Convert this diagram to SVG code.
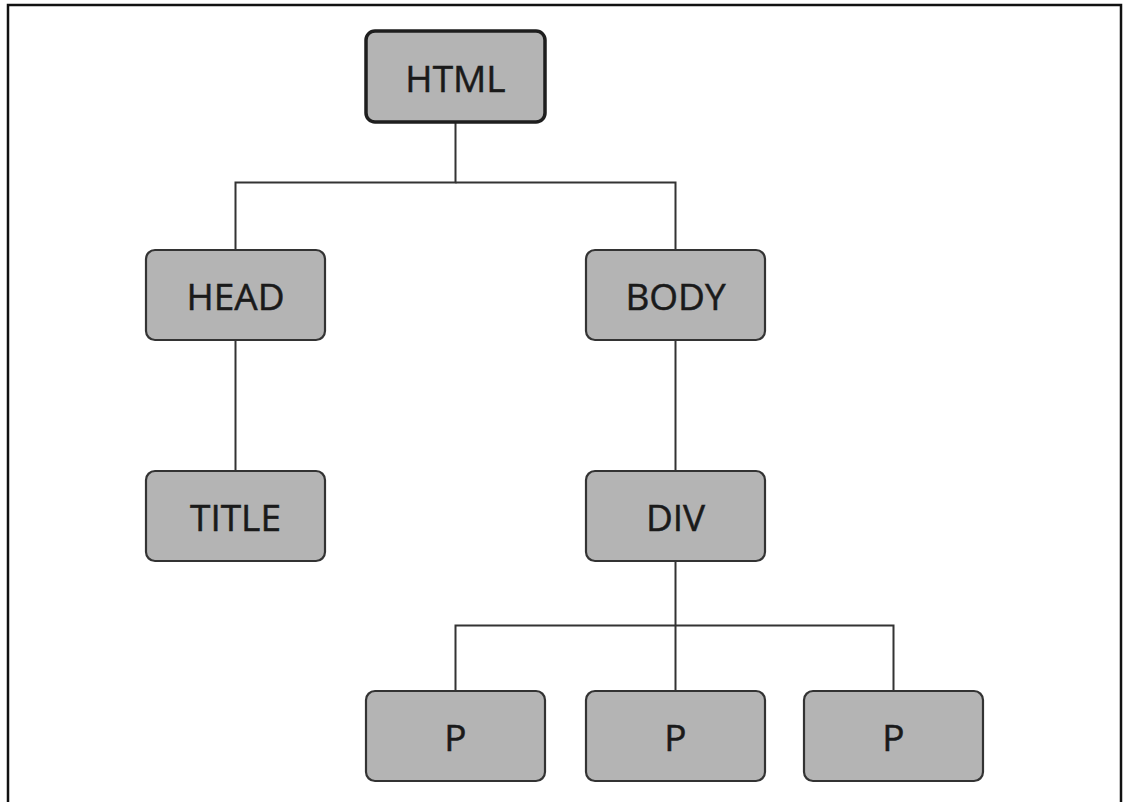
<svg xmlns="http://www.w3.org/2000/svg" width="1125" height="802" viewBox="0 0 1125 802">
  <style>
    .box { fill: #b4b4b4; stroke: #333333; stroke-width: 2.2; }
    .root { stroke: #1e1e1e; stroke-width: 3.5; }
    .label { font-family: "Open Sans", "Liberation Sans", sans-serif; font-size: 37px; fill: #1a1a1a; stroke: #1a1a1a; stroke-width: 0.5; text-anchor: middle; dominant-baseline: central; }
    .wire { fill: none; stroke: #333333; stroke-width: 2; }
  </style>
  <rect width="1125" height="802" fill="#ffffff"/>
  <!-- frame -->
  <path d="M8 802 V5 H1121 V802" fill="none" stroke="#111111" stroke-width="2.5"/>

  <g id="connectors">
    <path class="wire" d="M455.5 122 V182.5 H235.5 V249"/>
    <path class="wire" d="M455.5 182.5 H675.5 V249"/>
    <path class="wire" d="M235.5 340 V470"/>
    <path class="wire" d="M675.5 340 V470"/>
    <path class="wire" d="M675.5 561 V691"/>
    <path class="wire" d="M675.5 625.5 H455.5 V691"/>
    <path class="wire" d="M675.5 625.5 H893.5 V691"/>
  </g>

  <g id="node-html">
    <rect class="box root" x="366" y="31" width="179" height="91" rx="9"/>
    <text class="label" x="455.5" y="77">HTML</text>
  </g>
  <g id="node-head">
    <rect class="box" x="146" y="250" width="179" height="90" rx="9"/>
    <text class="label" x="235.5" y="295">HEAD</text>
  </g>
  <g id="node-body">
    <rect class="box" x="586" y="250" width="179" height="90" rx="9"/>
    <text class="label" x="675.5" y="295">BODY</text>
  </g>
  <g id="node-title">
    <rect class="box" x="146" y="471" width="179" height="90" rx="9"/>
    <text class="label" x="235.5" y="516">TITLE</text>
  </g>
  <g id="node-div">
    <rect class="box" x="586" y="471" width="179" height="90" rx="9"/>
    <text class="label" x="675.5" y="516">DIV</text>
  </g>
  <g id="node-p1">
    <rect class="box" x="366" y="691" width="179" height="90" rx="9"/>
    <text class="label" x="455.5" y="736">P</text>
  </g>
  <g id="node-p2">
    <rect class="box" x="586" y="691" width="179" height="90" rx="9"/>
    <text class="label" x="675.5" y="736">P</text>
  </g>
  <g id="node-p3">
    <rect class="box" x="804" y="691" width="179" height="90" rx="9"/>
    <text class="label" x="893.5" y="736">P</text>
  </g>
</svg>
